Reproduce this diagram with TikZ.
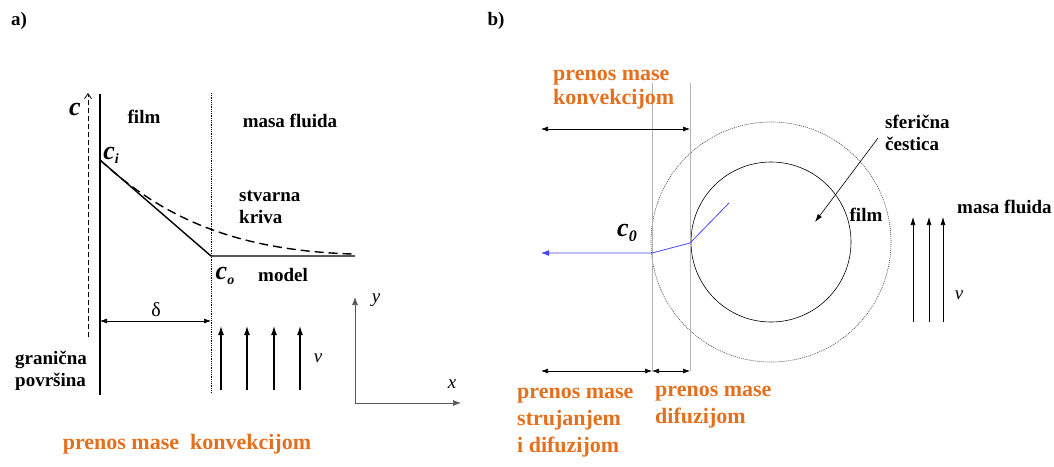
\documentclass[tikz,border=0pt]{standalone}
\usepackage{fontspec}
\setmainfont{Liberation Serif}
\usetikzlibrary{arrows.meta}
\definecolor{prenos}{RGB}{228,112,30}
\definecolor{tok}{RGB}{70,70,255}

\begin{document}
\begin{tikzpicture}[x=1pt,y=-1pt,
  lbl/.style={font=\fontsize{19}{22}\selectfont\bfseries, align=left, inner sep=0pt},
  olbl/.style={font=\fontsize{22}{27}\selectfont\bfseries, text=prenos, align=left, inner sep=0pt},
  sym/.style={font=\fontsize{19}{20}\selectfont\itshape, inner sep=0pt},
  csym/.style={font=\fontsize{26}{26}\selectfont\bfseries\itshape, inner sep=0pt},
  arrow/.style={-{Latex[length=9pt,width=6pt]}, line width=1.2pt},
  thinarrow/.style={-{Latex[length=8pt,width=5pt]}, line width=0.6pt},
  dim/.style={{Latex[length=7pt,width=5pt]}-{Latex[length=7pt,width=5pt]}, line width=0.6pt},
  guide/.style={gray!60, line width=0.4pt}
]
\useasboundingbox (0,0) rectangle (1054,466);

% ---- a) film model
\node[lbl] (a) at (19,21) {a)};
\coordinate (cbot) at (88,337);
\coordinate (ctop) at (88,93);
\draw[dashed, dash pattern=on 5pt off 3pt, line width=0.8pt, -{Straight Barb[length=5pt,width=7pt]}] (cbot) -- (ctop);
\node[csym] (c) at (75,109) {c};

\coordinate (wtop) at (100,94);
\coordinate (wbot) at (100,395);
\draw[line width=1.4pt] (wtop) -- (wbot);
\coordinate (ftop) at (211,93);
\coordinate (fbot) at (211,393);
\draw[densely dotted, line width=0.8pt] (ftop) -- (fbot);

\node[lbl] (filma) at (144,117) {film};
\node[lbl] (masaa) at (290,121) {masa fluida};
\node[csym] (ci) at (111,155) {c\raisebox{-0.35ex}{\fontsize{14}{14}\selectfont i}};

\coordinate (pi) at (100,160);
\coordinate (po) at (211,256);
\coordinate (pend) at (355,256);
\draw[line width=1.4pt] (pi) -- (po) -- (pend);
\coordinate (dend) at (352,254);
\draw[dashed, dash pattern=on 9pt off 5pt, line width=1.4pt] (pi) .. controls (160,215) and (230,250) .. (dend);

\node[lbl, anchor=west] (kriva) at (239,207) {stvarna\\kriva};
\node[csym] (co) at (225,276) {c\raisebox{-0.35ex}{\fontsize{14}{14}\selectfont o}};
\node[lbl] (model) at (283,275) {model};

\coordinate (d1) at (100,321);
\coordinate (d2) at (211,321);
\draw[dim] (d1) -- (d2);
\node[font=\fontsize{20}{20}\selectfont, inner sep=0pt] (delta) at (156,310) {δ};

\foreach \i/\xx in {1/221,2/247,3/274,4/300}{
  \coordinate (va\i) at (\xx,390);
  \coordinate (vb\i) at (\xx,326);
  \draw[arrow] (va\i) -- (vb\i);
}
\node[sym] (va) at (318,358) {v};

\node[lbl, anchor=west] (granica) at (15,371) {granična\\površina};

\coordinate (o) at (355,403);
\coordinate (oy) at (355,297);
\coordinate (ox) at (461,403);
\draw[gray!70!black, line width=0.7pt, -{Latex[length=8pt,width=6pt]}] (o) -- (oy);
\draw[gray!70!black, line width=0.7pt, -{Latex[length=8pt,width=6pt]}] (o) -- (ox);
\node[sym] (ylbl) at (376,300) {y};
\node[sym] (xlbl) at (452,384) {x};

\node[olbl] (konva) at (187,444) {prenos mase\ \ konvekcijom};

% ---- b) sfericna cestica
\node[lbl] (b) at (496,21) {b)};
\coordinate (sc) at (771,242);
\draw[dash pattern=on 1pt off 1pt, line width=0.6pt, black!75] (sc) circle[radius=120];
\draw[line width=0.6pt] (sc) circle[radius=80];

\coordinate (g1t) at (652,83);
\coordinate (g1b) at (652,371);
\coordinate (g2t) at (690,83);
\coordinate (g2b) at (690,371);
\draw[guide] (g1t) -- (g1b);
\draw[guide] (g2t) -- (g2b);

\coordinate (k1) at (541,129);
\coordinate (k2) at (690,129);
\draw[dim] (k1) -- (k2);
\node[olbl, anchor=west] (konvb) at (553,90) {prenos mase\\[-3pt]konvekcijom};

\coordinate (s1) at (541,371);
\coordinate (s2) at (652,371);
\coordinate (s3) at (690,371);
\draw[dim] (s1) -- (s2);
\draw[dim] (s2) -- (s3);
\node[olbl, anchor=west] (struj) at (517,423) {prenos mase\\strujanjem\\i difuzijom};
\node[olbl, anchor=west] (difuz) at (655,407) {prenos mase\\difuzijom};

\coordinate (bl0) at (541,253);
\coordinate (bl1) at (652,253);
\coordinate (bl2) at (690,243);
\coordinate (bl3) at (729,203);
\draw[tok, line width=0.8pt, -{Latex[length=8pt,width=6pt]}] (bl3) -- (bl2) -- (bl1) -- (bl0);
\node[csym] (c0) at (627,233) {c\raisebox{-0.35ex}{\fontsize{16}{16}\selectfont 0}};

\node[lbl, anchor=west] (sfera) at (885,133) {sferična\\čestica};
\coordinate (sa1) at (878,138);
\coordinate (sa2) at (815,222);
\draw[thinarrow] (sa1) -- (sa2);
\node[lbl] (filmb) at (866,215) {film};
\node[lbl, anchor=west] (masab) at (957,207) {masa fluida};

\foreach \i/\xx in {1/913,2/929,3/943}{
  \coordinate (vc\i) at (\xx,322);
  \coordinate (vd\i) at (\xx,217);
  \draw[thinarrow] (vc\i) -- (vd\i);
}
\node[sym] (vb) at (959,295) {v};
\end{tikzpicture}
\end{document}
